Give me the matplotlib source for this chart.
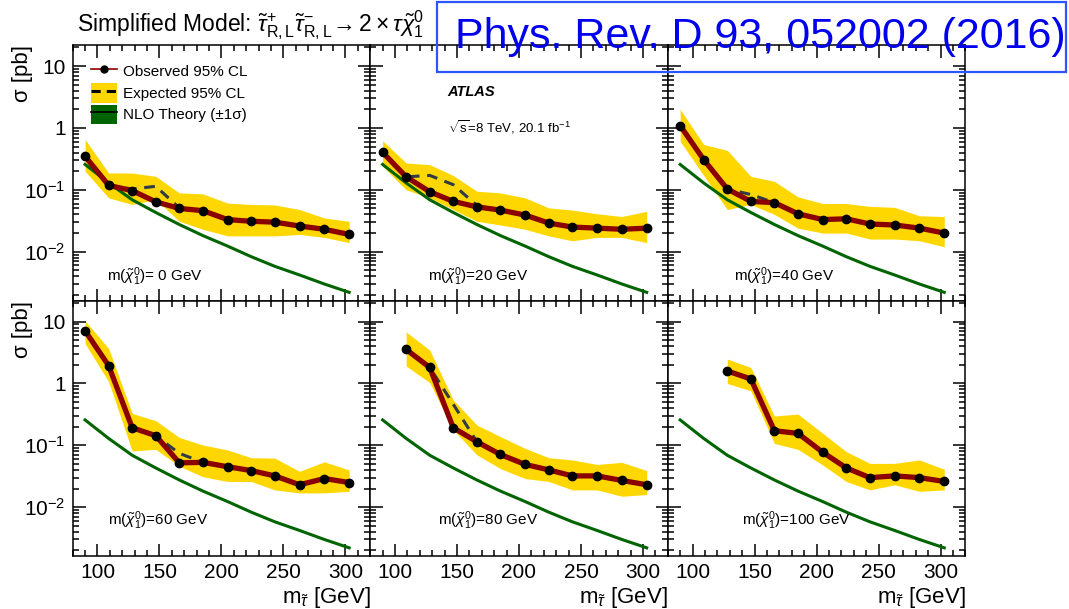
import matplotlib
matplotlib.use("Agg")
import matplotlib.pyplot as plt
import numpy as np
from matplotlib.lines import Line2D
from matplotlib.patches import Patch, Rectangle
from matplotlib.ticker import MultipleLocator, LogLocator, NullFormatter

plt.rcParams['font.family'] = ['Liberation Sans', 'DejaVu Sans']
plt.rcParams['mathtext.fontset'] = 'custom'
plt.rcParams['mathtext.rm'] = 'Liberation Sans'
plt.rcParams['mathtext.it'] = 'Liberation Sans:italic'
plt.rcParams['mathtext.bf'] = 'Liberation Sans:bold'

# stau mass grid [GeV]
stau_mass = [90, 109, 128, 147, 166, 185, 205, 224, 243, 263, 283, 303]

# NLO stau pair cross-section [pb]
theory_xsec = [0.257, 0.129, 0.069, 0.043, 0.0275, 0.0182, 0.0123, 0.0083,
               0.0058, 0.0042, 0.0030, 0.0022]

# neutralino mass for each panel [GeV]
lsp_mass = [0, 20, 40, 60, 80, 100]
first_point = [0, 0, 0, 0, 1, 2]

# 95% CL upper limits [pb]
obs_0 = [0.348, 0.118, 0.097, 0.064, 0.050, 0.046, 0.033, 0.031, 0.030, 0.026, 0.023, 0.019]
exp_0 = [0.348, 0.118, 0.103, 0.114, 0.051, 0.046, 0.033, 0.031, 0.030, 0.026, 0.023, 0.019]
hi_0 = [0.65, 0.187, 0.187, 0.165, 0.089, 0.086, 0.061, 0.058, 0.057, 0.048, 0.035, 0.031]
lo_0 = [0.20, 0.074, 0.058, 0.070, 0.031, 0.023, 0.018, 0.018, 0.018, 0.019, 0.017, 0.014]

obs_20 = [0.404, 0.162, 0.093, 0.065, 0.053, 0.047, 0.039, 0.029, 0.025, 0.024, 0.023, 0.024]
exp_20 = [0.404, 0.162, 0.171, 0.121, 0.056, 0.047, 0.039, 0.029, 0.025, 0.024, 0.023, 0.024]
hi_20 = [0.62, 0.272, 0.255, 0.170, 0.095, 0.089, 0.074, 0.051, 0.047, 0.041, 0.037, 0.045]
lo_20 = [0.24, 0.100, 0.074, 0.048, 0.031, 0.027, 0.023, 0.018, 0.015, 0.017, 0.017, 0.014]

obs_40 = [1.09, 0.307, 0.103, 0.065, 0.062, 0.041, 0.033, 0.034, 0.028, 0.027, 0.024, 0.020]
exp_40 = [1.09, 0.307, 0.103, 0.084, 0.062, 0.041, 0.033, 0.034, 0.028, 0.027, 0.024, 0.020]
hi_40 = [2.0, 0.54, 0.435, 0.165, 0.137, 0.077, 0.060, 0.060, 0.054, 0.052, 0.038, 0.037]
lo_40 = [0.61, 0.17, 0.048, 0.058, 0.040, 0.024, 0.020, 0.020, 0.016, 0.016, 0.015, 0.012]

obs_60 = [7.1, 1.93, 0.192, 0.143, 0.052, 0.053, 0.045, 0.039, 0.032, 0.023, 0.029, 0.025]
exp_60 = [7.1, 1.93, 0.192, 0.143, 0.074, 0.053, 0.045, 0.039, 0.032, 0.023, 0.029, 0.025]
hi_60 = [10.3, 3.67, 0.327, 0.25, 0.134, 0.101, 0.084, 0.063, 0.062, 0.038, 0.054, 0.040]
lo_60 = [4.4, 1.07, 0.081, 0.086, 0.046, 0.031, 0.026, 0.026, 0.019, 0.017, 0.017, 0.018]

obs_80 = [3.54, 1.81, 0.192, 0.114, 0.071, 0.049, 0.040, 0.032, 0.032, 0.027, 0.023]
exp_80 = [3.54, 1.81, 0.46, 0.114, 0.071, 0.049, 0.040, 0.032, 0.032, 0.027, 0.023]
hi_80 = [6.8, 3.46, 0.54, 0.213, 0.138, 0.089, 0.063, 0.058, 0.049, 0.053, 0.039]
lo_80 = [1.91, 1.03, 0.177, 0.070, 0.042, 0.029, 0.026, 0.019, 0.019, 0.015, 0.016]

obs_100 = [1.59, 1.18, 0.172, 0.156, 0.077, 0.043, 0.030, 0.032, 0.030, 0.026]
exp_100 = [1.59, 1.18, 0.172, 0.156, 0.077, 0.043, 0.030, 0.032, 0.030, 0.026]
hi_100 = [2.48, 1.81, 0.297, 0.32, 0.156, 0.079, 0.051, 0.051, 0.058, 0.041]
lo_100 = [1.0, 0.76, 0.107, 0.086, 0.048, 0.026, 0.019, 0.023, 0.018, 0.019]

observed = [obs_0, obs_20, obs_40, obs_60, obs_80, obs_100]
expected = [exp_0, exp_20, exp_40, exp_60, exp_80, exp_100]
band_hi = [hi_0, hi_20, hi_40, hi_60, hi_80, hi_100]
band_lo = [lo_0, lo_20, lo_40, lo_60, lo_80, lo_100]

label_x = [0.115, 0.195, 0.222, 0.12, 0.228, 0.248]

YELLOW = '#ffd700'
GREEN = '#006400'
RED = '#8b0000'

fig, axes = plt.subplots(2, 3, figsize=(10.69, 6.09), dpi=100, sharex=True, sharey=True)
fig.subplots_adjust(left=0.068, right=0.903, top=0.926, bottom=0.087, wspace=0, hspace=0)

for i, ax in enumerate(axes.flat):
    k = first_point[i]
    m = stau_mass[k:]
    ax.fill_between(m, band_lo[i], band_hi[i], color=YELLOW, lw=0, zorder=1)
    ax.plot(m, expected[i], color='#2f3b45', lw=2.2, ls=(0, (3.5, 2.5)), zorder=2)
    ax.plot(stau_mass, theory_xsec, color=GREEN, lw=2.2, zorder=3)
    ax.plot(m, observed[i], color=RED, lw=3.8, zorder=4)
    ax.plot(m, observed[i], 'o', color='black', ms=6, zorder=5)

    ax.set_yscale('log')
    ax.set_xlim(80, 320)
    ax.set_ylim(10 ** -2.79, 10 ** 1.34)
    ax.xaxis.set_major_locator(MultipleLocator(50))
    ax.xaxis.set_minor_locator(MultipleLocator(10))
    ax.set_yticks([1e-2, 1e-1, 1, 10])
    ax.set_yticklabels(['$10^{-2}$', '$10^{-1}$', '1', '10'])
    ax.yaxis.set_minor_locator(LogLocator(base=10, subs=np.arange(2, 10)))
    ax.yaxis.set_minor_formatter(NullFormatter())
    ax.tick_params(which='both', direction='in', top=True, right=True,
                   labelsize=15, width=1.1, pad=5)
    ax.tick_params(which='major', length=9)
    ax.tick_params(which='minor', length=4.5)
    for sp in ax.spines.values():
        sp.set_linewidth(1.1)

    yrow = 0.093 if i < 3 else 0.138
    value = ' 0' if lsp_mass[i] == 0 else str(lsp_mass[i])
    ax.text(label_x[i], yrow, r'm($\tilde{\chi}^{0}_{1}$)=' + value + ' GeV',
            transform=ax.transAxes, fontsize=11, va='center', ha='left')

for ax in axes[:, 0]:
    ax.set_ylabel('σ [pb]', fontsize=16, loc='top')
    ax.yaxis.set_label_coords(-0.135, 1.0)
for ax in axes[1, :]:
    ax.set_xlabel(r'm$_{\tilde{\tau}}$ [GeV]', fontsize=16, loc='right', labelpad=2)

# legend in the first panel
handles = [
    Line2D([], [], color=RED, lw=1.2, marker='o', ms=5, mfc='black', mec='black'),
    (Patch(facecolor=YELLOW, edgecolor='none'), Line2D([], [], color='black', lw=2.2, ls=(0, (3, 2)))),
    (Patch(facecolor=GREEN, edgecolor='none'), Line2D([], [], color='black', lw=1.2)),
]
labels = ['Observed 95% CL', 'Expected 95% CL', 'NLO Theory (±1σ)']
axes[0, 0].legend(handles, labels, loc='upper left', bbox_to_anchor=(0.06, 0.935),
                  frameon=False, fontsize=11, handlelength=1.75, handleheight=1.6,
                  labelspacing=0.12, handletextpad=0.4, borderpad=0, borderaxespad=0)

axes[0, 1].text(0.26, 0.818, 'ATLAS', transform=axes[0, 1].transAxes,
                fontsize=10.5, fontweight='bold', fontstyle='italic', va='center')
axes[0, 1].text(0.26, 0.678, r'$\sqrt{\mathrm{s}}$=8 TeV, 20.1 fb$^{-1}$', transform=axes[0, 1].transAxes,
                fontsize=9.5, va='center')

fig.text(0.072, 0.958,
         r'Simplified Model: $\tilde{\tau}^{+}_{\mathrm{R,L}}\tilde{\tau}^{-}_{\mathrm{R,L}}\!\rightarrow 2\times\tau\tilde{\chi}^{0}_{1}$',
         fontsize=16.5, va='center', ha='left')

fig.patches.append(Rectangle((437 / 1069, 1 - 72 / 609), 629 / 1069, 70 / 609,
                             transform=fig.transFigure, fill=False,
                             edgecolor='#2a55ff', lw=1.6, zorder=10))
fig.text(0.4255, 1 - 37 / 609, 'Phys. Rev. D 93, 052002 (2016)', color='#0000ee',
         fontsize=31, va='center', ha='left', zorder=11)

fig.savefig('out.png', dpi=100)
